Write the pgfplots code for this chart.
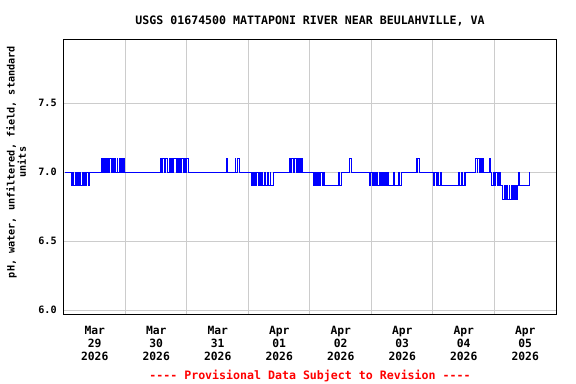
\documentclass[border=0pt]{standalone}
\usepackage{fontspec}
\setmainfont{DejaVu Sans Mono}[Ligatures=TeXOff]
\usepackage{pgfplots}
\pgfplotsset{compat=1.18}
\definecolor{gridgray}{RGB}{204,204,204}
\definecolor{datablue}{RGB}{0,0,255}
\definecolor{provred}{RGB}{255,0,0}
\begin{document}
\begin{tikzpicture}[x=1pt,y=1pt]
\path[use as bounding box] (-48,-51.75) rectangle (384,236.25);
\begin{axis}[
  at={(0,0)}, anchor=south west,
  scale only axis, width=369pt, height=206.25pt,
  xmin=0, xmax=192, ymin=5.964, ymax=7.957,
  axis line style={black, line width=0.75pt},
  xtick={12,36,60,84,108,132,156,180},
  xticklabels={{Mar\\29\\2026},{Mar\\30\\2026},{Mar\\31\\2026},{Apr\\01\\2026},{Apr\\02\\2026},{Apr\\03\\2026},{Apr\\04\\2026},{Apr\\05\\2026}},
  minor xtick={24,48,72,96,120,144,168},
  xminorgrids=true,
  minor grid style={gridgray, line width=0.75pt},
  major tick length=0pt, minor tick length=0pt,
  ytick={6.0,6.5,7.0,7.5},
  ymajorgrids=true,
  major grid style={gridgray, line width=0.75pt},
  /pgf/number format/fixed, /pgf/number format/fixed zerofill, /pgf/number format/precision=1, /pgf/number format/assume math mode=true,
  yticklabel style={font=\fontsize{7.6}{9}\selectfont\bfseries, xshift=-2pt},
  xticklabel style={align=center, font=\fontsize{8.5}{9.75}\selectfont\bfseries, yshift=-5pt},
  ylabel={pH, water, unfiltered, field, standard\\units},
  ylabel style={align=center, font=\fontsize{7.6}{8.5}\selectfont\bfseries, at={(axis description cs:-0.097,0.556)}, anchor=center},
  every axis title shift=0pt,
  title={USGS 01674500 MATTAPONI RIVER NEAR BEULAHVILLE, VA},
  title style={font=\fontsize{8.7}{10}\selectfont\bfseries, at={(axis description cs:0.5,1)}, anchor=center, yshift=14.25pt},
  clip=false,
]
\addplot[const plot, datablue, line width=0.8pt] coordinates {
(0.50,7.0) (2.75,7.0)
(3.00,6.9) (3.50,7.0) (3.75,6.9) (4.50,7.0) (4.75,6.9) (5.25,7.0) (5.50,6.9) (6.00,6.9)
(6.25,7.0) (6.50,6.9) (7.25,7.0) (7.50,6.9) (8.00,7.0) (8.50,6.9) (8.75,7.0) (9.50,6.9) (9.75,7.0)
(14.75,7.1) (15.00,7.0) (15.50,7.1) (15.75,7.0) (16.00,7.1) (16.50,7.0) (17.00,7.1) (17.25,7.0)
(17.75,7.1) (18.50,7.0) (18.75,7.1) (19.50,7.0) (20.00,7.1) (20.25,7.0) (20.75,7.1) (21.00,7.0)
(21.75,7.1) (22.00,7.0) (22.50,7.1) (23.00,7.0) (23.25,7.1) (23.50,7.0)
(37.50,7.1) (38.00,7.0) (38.50,7.1) (39.25,7.0) (39.50,7.1) (40.50,7.0) (41.00,7.1) (41.50,7.0)
(42.00,7.1) (42.25,7.0) (42.75,7.1) (43.75,7.0) (44.25,7.1) (44.75,7.0) (45.25,7.1) (45.50,7.0)
(46.00,7.1) (46.50,7.0) (47.00,7.1) (47.50,7.0) (47.75,7.1) (48.50,7.0)
(63.25,7.1) (63.75,7.0) (66.75,7.1) (67.00,7.0) (67.75,7.1) (68.50,7.0)
(73.00,6.9) (73.50,7.0) (74.00,6.9) (74.25,7.0) (74.75,6.9) (75.25,7.0) (75.75,6.9) (76.00,7.0)
(76.50,6.9) (77.25,7.0) (77.50,6.9) (78.25,7.0) (78.50,6.9) (79.50,7.0) (79.75,6.9) (80.50,7.0)
(80.75,6.9) (81.75,7.0)
(88.00,7.1) (88.50,7.0) (88.75,7.1) (89.50,7.0) (89.75,7.1) (90.75,7.0) (91.00,7.1) (91.50,7.0)
(92.00,7.1) (92.50,7.0) (92.75,7.1) (93.25,7.0)
(97.50,6.9) (97.75,7.0) (98.00,6.9) (98.25,7.0) (98.50,6.9) (98.75,7.0) (99.00,6.9) (99.25,7.0)
(99.50,6.9) (100.25,7.0) (101.00,6.9) (101.25,7.0) (101.50,6.9) (107.25,7.0) (107.50,6.9) (108.25,7.0)
(111.50,7.1) (112.25,7.0)
(119.25,6.9) (119.75,7.0) (120.25,6.9) (120.75,7.0) (121.00,6.9) (121.25,7.0) (121.75,6.9) (122.25,7.0)
(122.50,6.9) (123.00,7.0) (123.50,6.9) (123.75,7.0) (124.25,6.9) (124.75,7.0) (125.25,6.9) (125.50,7.0)
(126.00,6.9) (126.25,7.0) (126.75,6.9) (128.75,7.0) (129.00,6.9) (130.50,7.0) (130.75,6.9) (131.75,7.0)
(137.75,7.1) (138.75,7.0)
(144.25,6.9) (144.75,7.0) (145.25,6.9) (145.75,7.0) (146.25,6.9) (146.75,7.0) (147.25,6.9) (154.00,7.0)
(154.50,6.9) (155.25,7.0) (155.50,6.9) (156.50,7.0)
(160.75,7.1) (161.25,7.0) (161.50,7.1) (162.25,7.0) (162.50,7.1) (163.00,7.0) (163.25,7.1) (163.75,7.0)
(166.00,7.1) (166.50,7.0)
(167.00,6.9) (167.50,7.0) (168.00,6.9) (168.50,7.0) (169.00,6.9) (169.25,7.0) (169.75,6.9) (170.25,7.0)
(170.50,6.9) (171.25,6.8) (171.75,6.9) (172.25,6.8) (172.75,6.9) (173.00,6.8) (173.75,6.9) (174.00,6.8)
(174.50,6.9) (175.00,6.8) (175.50,6.9) (175.75,6.8) (176.25,6.9) (176.50,6.8) (177.00,6.9) (177.50,7.0)
(177.75,6.9) (181.50,7.0) (181.75,7.0)
};
\node[font=\fontsize{8.7}{10}\selectfont\bfseries, text=provred] at (axis description cs:0.5,-0.222) {---- Provisional Data Subject to Revision ----};
\end{axis}
\end{tikzpicture}
\end{document}
